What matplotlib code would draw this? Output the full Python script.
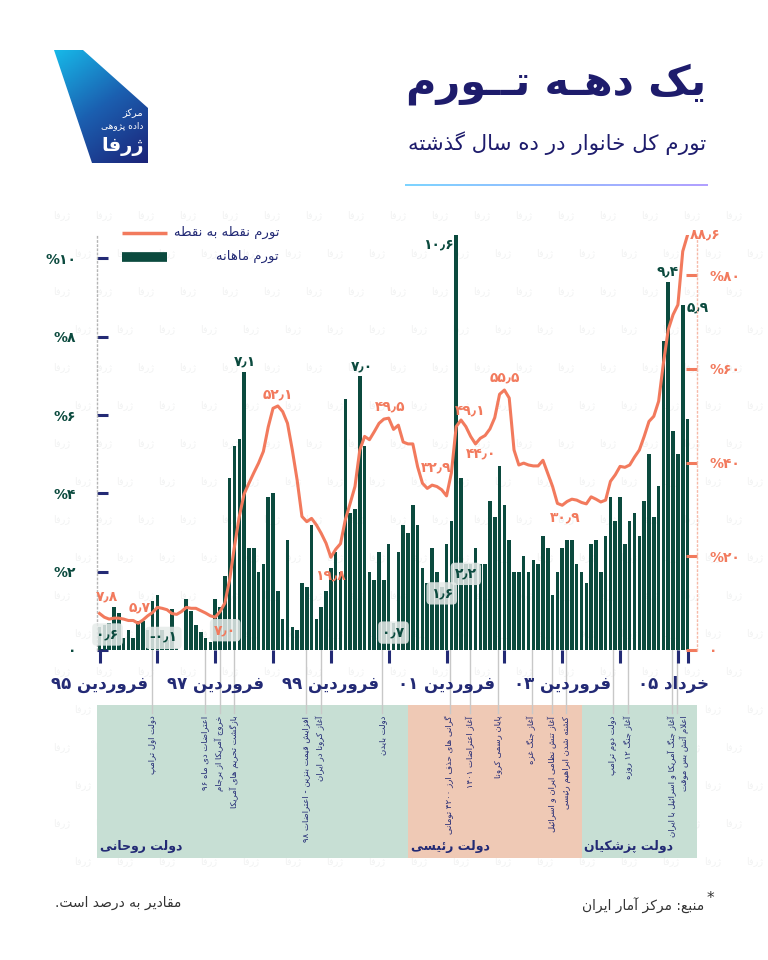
import re
import matplotlib
matplotlib.use('Agg')
import matplotlib.pyplot as plt
from matplotlib.patches import Polygon
from matplotlib.collections import LineCollection
from matplotlib.colors import LinearSegmentedColormap
from matplotlib.transforms import ScaledTranslation
import numpy as np

plt.rcParams['font.family'] = ['DejaVu Sans']

# ---------------- data ----------------
# monthly inflation (%), Farvardin 95 .. Khordad 05
monthly = [0.6, 0.65, 0.7, 1.1, 0.95, 0.3, 0.5, 0.3, 0.75, 0.75,
           0.5, 1.25, 1.4, 0.5, 0.25, 1.05, 0.05, -0.1, 1.3, 1.0,
           0.65, 0.45, 0.3, 0.2, 1.3, 1.1, 1.9, 4.4, 5.2, 5.4,
           7.1, 2.6, 2.6, 2.0, 2.2, 3.9, 4.0, 1.5, 0.8, 2.8,
           0.6, 0.5, 1.7, 1.6, 3.2, 0.8, 1.1, 1.5, 2.1, 2.5,
           2.0, 6.4, 3.5, 3.6, 7.0, 5.2, 2.0, 1.8, 2.5, 1.8,
           2.7, 0.7, 2.5, 3.2, 3.0, 3.7, 3.2, 2.1, 1.7, 2.6,
           2.0, 1.6, 2.7, 3.3, 10.6, 4.4, 2.2, 2.2, 2.6, 2.2,
           2.2, 3.8, 3.4, 4.7, 3.7, 2.8, 2.0, 2.0, 2.4, 2.0,
           2.3, 2.2, 2.9, 2.6, 1.4, 2.0, 2.6, 2.8, 2.8, 2.2,
           2.0, 1.7, 2.7, 2.8, 2.0, 2.9, 3.9, 3.3, 3.9, 2.7,
           3.3, 3.5, 2.9, 3.8, 5.0, 3.4, 4.2, 7.9, 9.4, 5.6,
           5.0, 8.8, 5.9]

# point-to-point inflation (%)
point_to_point = [7.8, 7.0, 6.6, 6.8, 6.8, 6.6, 6.3, 6.3, 5.7, 6.4,
                  7.3, 8.0, 9.1, 8.9, 8.6, 7.8, 7.6, 8.2, 9.1, 8.9,
                  8.9, 8.4, 7.9, 7.3, 7.0, 8.2, 10.0, 15.0, 22.1, 28.5,
                  33.3, 35.6, 37.8, 39.9, 42.4, 47.6, 51.6, 52.1, 50.9, 48.4,
                  42.7, 36.3, 28.5, 27.4, 28.1, 26.7, 24.9, 22.8, 19.8, 21.5,
                  22.7, 27.8, 31.3, 34.9, 42.7, 45.6, 44.9, 46.6, 48.4, 49.3,
                  49.5, 47.1, 48.0, 44.4, 44.0, 44.0, 39.1, 35.6, 34.5, 35.2,
                  34.9, 34.2, 32.9, 37.8, 47.7, 49.1, 47.7, 45.6, 44.0, 45.2,
                  45.8, 47.2, 49.6, 54.6, 55.5, 53.8, 42.7, 39.5, 39.9, 39.5,
                  39.3, 39.3, 40.5, 37.7, 34.9, 31.3, 30.9, 31.7, 32.2, 32.0,
                  31.5, 31.2, 32.7, 32.2, 31.6, 32.0, 36.0, 37.4, 39.2, 39.0,
                  39.5, 41.2, 42.7, 45.6, 48.8, 49.9, 53.1, 61.3, 68.4, 71.6,
                  73.7, 85.1, 88.6]

months = list(range(len(monthly)))

tick_months = [0, 12, 24, 36, 48, 60, 72, 84, 96, 108, 120, 122]
label_months = [0, 24, 48, 72, 96, 122]
label_texts = ['فروردین ۹۵', 'فروردین ۹۷', 'فروردین ۹۹', 'فروردین ۰۱', 'فروردین ۰۳', 'خرداد ۰۵']

gov_names = ['دولت روحانی', 'دولت رئیسی', 'دولت پزشکیان']
gov_changes = [64, 100]

event_months = [10.8, 21.9, 24.9, 27.9, 42.8, 45.9, 58.7, 72.7, 76.9, 82.7,
                89.7, 93.9, 96.8, 106.5, 109.7, 118.8, 119.8]
event_texts = ['دولت اول ترامپ', 'اعتراضات دی ماه ۹۶', 'خروج آمریکا از برجام',
               'بازگشت تحریم های آمریکا', 'افزایش قیمت بنزین - اعتراضات ۹۸',
               'آغاز کرونا در ایران', 'دولت بایدن', 'گرانی های حذف ارز ۴۲۰۰ تومانی',
               'آغاز اعتراضات ۱۴۰۱', 'پایان رسمی کرونا', 'آغاز جنگ غزه',
               'آغاز تنش نظامی ایران و اسرائیل', 'کشته شدن ابراهیم رئیسی',
               'دولت دوم ترامپ', 'آغاز جنگ ۱۲ روزه',
               'آغاز جنگ آمریکا و اسرائیل با ایران', 'اعلام آتش بس موقت']

# which points get a value label: (month, offset px, boxed)
bar_notes = [(0, (8, -8), True), (17, (-18, 16), True), (30, (1, 10), False),
             (54, (2, 9), False), (61, (0, -10), True), (71, (0, -6), True),
             (74, (-18, -10), False), (76, (0, -10), True), (118, (-1, 10), False),
             (122, (10, 111), False)]
line_notes = [(0, (7, 17), False), (8, (2, 16), False), (24, (10, -13), True),
              (37, (0, 11), False), (48, (0, -18), False), (60, (1, 12), False),
              (72, (-10, 28), False), (75, (9, 9), False), (78, (6, -10), False),
              (84, (0, 12), False), (96, (3, -12), False), (122, (18, 0), False)]

# ---------------- persian text helpers ----------------
FORMS = {
    '\u0621': ('\ufe80', None, None, None),
    '\u0622': ('\ufe81', '\ufe82', None, None),
    '\u0623': ('\ufe83', '\ufe84', None, None),
    '\u0624': ('\ufe85', '\ufe86', None, None),
    '\u0625': ('\ufe87', '\ufe88', None, None),
    '\u0626': ('\ufe89', '\ufe8a', '\ufe8b', '\ufe8c'),
    '\u0627': ('\ufe8d', '\ufe8e', None, None),
    '\u0628': ('\ufe8f', '\ufe90', '\ufe91', '\ufe92'),
    '\u0629': ('\ufe93', '\ufe94', None, None),
    '\u062a': ('\ufe95', '\ufe96', '\ufe97', '\ufe98'),
    '\u062b': ('\ufe99', '\ufe9a', '\ufe9b', '\ufe9c'),
    '\u062c': ('\ufe9d', '\ufe9e', '\ufe9f', '\ufea0'),
    '\u062d': ('\ufea1', '\ufea2', '\ufea3', '\ufea4'),
    '\u062e': ('\ufea5', '\ufea6', '\ufea7', '\ufea8'),
    '\u062f': ('\ufea9', '\ufeaa', None, None),
    '\u0630': ('\ufeab', '\ufeac', None, None),
    '\u0631': ('\ufead', '\ufeae', None, None),
    '\u0632': ('\ufeaf', '\ufeb0', None, None),
    '\u0633': ('\ufeb1', '\ufeb2', '\ufeb3', '\ufeb4'),
    '\u0634': ('\ufeb5', '\ufeb6', '\ufeb7', '\ufeb8'),
    '\u0635': ('\ufeb9', '\ufeba', '\ufebb', '\ufebc'),
    '\u0636': ('\ufebd', '\ufebe', '\ufebf', '\ufec0'),
    '\u0637': ('\ufec1', '\ufec2', '\ufec3', '\ufec4'),
    '\u0638': ('\ufec5', '\ufec6', '\ufec7', '\ufec8'),
    '\u0639': ('\ufec9', '\ufeca', '\ufecb', '\ufecc'),
    '\u063a': ('\ufecd', '\ufece', '\ufecf', '\ufed0'),
    '\u0641': ('\ufed1', '\ufed2', '\ufed3', '\ufed4'),
    '\u0642': ('\ufed5', '\ufed6', '\ufed7', '\ufed8'),
    '\u0644': ('\ufedd', '\ufede', '\ufedf', '\ufee0'),
    '\u0645': ('\ufee1', '\ufee2', '\ufee3', '\ufee4'),
    '\u0646': ('\ufee5', '\ufee6', '\ufee7', '\ufee8'),
    '\u0647': ('\ufee9', '\ufeea', '\ufeeb', '\ufeec'),
    '\u0648': ('\ufeed', '\ufeee', None, None),
    '\u067e': ('\ufb56', '\ufb57', '\ufb58', '\ufb59'),
    '\u0686': ('\ufb7a', '\ufb7b', '\ufb7c', '\ufb7d'),
    '\u0698': ('\ufb8a', '\ufb8b', None, None),
    '\u06a9': ('\ufb8e', '\ufb8f', '\ufb90', '\ufb91'),
    '\u06af': ('\ufb92', '\ufb93', '\ufb94', '\ufb95'),
    '\u06cc': ('\ufbfc', '\ufbfd', '\ufbfe', '\ufbff'),
}
LAM_ALEF = {'\u0627': ('\ufefb', '\ufefc'), '\u0622': ('\ufef5', '\ufef6'),
            '\u0623': ('\ufef7', '\ufef8'), '\u0625': ('\ufef9', '\ufefa')}


def joins_next(c):
    return c == '\u0640' or (c in FORMS and FORMS[c][2] is not None)


def joins_prev(c):
    return c == '\u0640' or (c in FORMS and FORMS[c][1] is not None)


def shape(s):
    s = s.replace('\u064a', '\u06cc').replace('\u0643', '\u06a9')
    out = []
    i = 0
    while i < len(s):
        c = s[i]
        prev = s[i - 1] if i > 0 else ''
        nxt = s[i + 1] if i + 1 < len(s) else ''
        if c == '\u200c':
            i += 1
            continue
        if c not in FORMS:
            out.append(c)
            i += 1
            continue
        if c == '\u0644' and nxt in LAM_ALEF:
            out.append(LAM_ALEF[nxt][1] if joins_next(prev) else LAM_ALEF[nxt][0])
            i += 2
            continue
        iso, fin, ini, med = FORMS[c]
        cp = joins_next(prev) and fin is not None
        cn = ini is not None and joins_prev(nxt)
        if cp and cn:
            out.append(med)
        elif cp:
            out.append(fin)
        elif cn:
            out.append(ini)
        else:
            out.append(iso)
        i += 1
    return ''.join(out)


def rtl(s):
    s = shape(s)
    parts = re.split(r'([0-9\u06f0-\u06f9](?:[0-9\u06f0-\u06f9\u066b.,]*[0-9\u06f0-\u06f9])?)', s)
    vis = [p if k % 2 else p[::-1] for k, p in enumerate(parts)]
    return ''.join(reversed(vis))


FA = str.maketrans('0123456789', '۰۱۲۳۴۵۶۷۸۹')


def fa_num(v):
    s = f'{abs(v):.1f}'.translate(FA).replace('.', '٫')
    return ('-' if v < 0 else '') + s


# ---------------- colours ----------------
green = '#0b4a3e'
orange = '#f27a5d'
navy = '#232a75'
title_col = '#1e1c6c'
band_green = '#c7dfd4'
band_salmon = '#efc9b5'

W, H = 768, 960
fig = plt.figure(figsize=(W / 100, H / 100), dpi=100)
fig.patch.set_facecolor('white')

bg = fig.add_axes([0, 0, 1, 1])
bg.set_xlim(0, W)
bg.set_ylim(H, 0)
bg.axis('off')
bg.set_zorder(0)

# faint logo watermark behind the chart
for r, wy in enumerate(range(215, 890, 38)):
    for wx in range(62, 760, 42):
        sx = wx + (21 if r % 2 else 0)
        bg.text(sx, wy, rtl('ژرفا'), ha='center', va='center', fontsize=7,
                color='#f2f3f3', zorder=0)

# logo
logo = Polygon([(54, 50), (83, 50), (148, 108), (148, 163), (92, 163)], closed=True,
               fc='none', ec='none')
bg.add_patch(logo)
gx, gy = np.meshgrid(np.linspace(0, 1, 60), np.linspace(0, 1, 60))
grad = 0.45 * gx + 0.75 * gy
cmap = LinearSegmentedColormap.from_list('logo', ['#17b8e8', '#1b5fb0', '#1c2479'])
im = bg.imshow(grad, cmap=cmap, extent=(54, 148, 163, 50), aspect='auto', zorder=1)
im.set_clip_path(logo)
bg.text(143, 113, rtl('مرکز'), ha='right', va='center', fontsize=7, color='white', zorder=2)
bg.text(143, 126, rtl('داده پژوهی'), ha='right', va='center', fontsize=6.5, color='white', zorder=2)
bg.text(144, 147, rtl('ژرفا'), ha='right', va='center', fontsize=14, fontweight='bold',
        color='white', zorder=2)

renderer = fig.canvas.get_renderer()


def fit(t, width):
    w = t.get_window_extent(renderer).width
    t.set_fontsize(t.get_fontsize() * width / w)


title = bg.text(706, 84, rtl('یک دهـه تــورم'), ha='right', va='center', fontsize=36,
                fontweight='bold', color=title_col)
fit(title, 300)
sub = bg.text(706, 143, rtl('تورم کل خانوار در ده سال گذشته'), ha='right', va='center',
              fontsize=16, color=title_col)
fit(sub, 300)

xs = np.linspace(405, 708, 60)
segs = [[(xs[k], 185), (xs[k + 1], 185)] for k in range(len(xs) - 1)]
lc = LineCollection(segs, colors=plt.get_cmap('cool')(np.linspace(0.25, 0.55, len(segs))),
                    linewidths=1.3, alpha=0.75)
bg.add_collection(lc)

# legend
bg.plot([122, 167], [233, 233], color=orange, lw=2.5, solid_capstyle='butt', zorder=3)
bg.plot([122, 167], [256.5, 256.5], color=green, lw=7, solid_capstyle='butt', zorder=3)
bg.text(279, 232, rtl('تورم نقطه به نقطه'), ha='right', va='center', fontsize=9.5, color=navy, zorder=3)
bg.text(279, 256, rtl('تورم ماهانه'), ha='right', va='center', fontsize=9.5, color=navy, zorder=3)

# footer
bg.text(704, 906, rtl('منبع: مرکز آمار ایران'), ha='right', va='center', fontsize=10, color='#333333')
bg.text(707, 899, '*', ha='left', va='center', fontsize=11, color='#333333')
bg.text(55, 903, rtl('مقادیر به درصد است.'), ha='left', va='center', fontsize=10, color='#333333')

# ---------------- main chart ----------------
ax = fig.add_axes([97 / W, 1 - 650 / H, 600 / W, 415 / H])
ax.set_zorder(2)
ax.patch.set_visible(False)
ax2 = ax.twinx()
ax2.set_zorder(3)
ax2.patch.set_visible(False)

xlim = (-0.52, 123.96)
ax.set_xlim(*xlim)
ax.set_ylim(0, max(monthly))
ax2.set_ylim(0, max(point_to_point))

ax.bar(months, monthly, width=0.74, color=green, zorder=2)
ax2.plot(months, point_to_point, color=orange, lw=2.2, solid_joinstyle='round', zorder=3)

for sp in ['top', 'bottom', 'right', 'left']:
    ax.spines[sp].set_visible(False)
    ax2.spines[sp].set_visible(False)
ax.spines['left'].set_visible(True)
ax.spines['left'].set_color('#b5b5b5')
ax.spines['left'].set_linestyle((0, (1, 2)))
ax.spines['left'].set_linewidth(1)
ax2.spines['right'].set_visible(True)
ax2.spines['right'].set_color('#f6b9a8')
ax2.spines['right'].set_linestyle((0, (1, 2)))
ax2.spines['right'].set_linewidth(1)

left_ticks = [0, 2, 4, 6, 8, 10]
ax.set_yticks(left_ticks, ['%' + str(v).translate(FA) if v else '۰' for v in left_ticks])
ax.tick_params(axis='y', direction='in', length=8, width=2.2, color=navy,
               labelcolor=green, labelsize=10, pad=15)
right_ticks = [0, 20, 40, 60, 80]
ax2.set_yticks(right_ticks, ['%' + str(v).translate(FA) if v else '۰' for v in right_ticks])
ax2.tick_params(axis='y', direction='in', length=8, width=2.2, color=orange,
                labelcolor=orange, labelsize=10, pad=9)
for lbl in ax.get_yticklabels() + ax2.get_yticklabels():
    lbl.set_fontweight('bold')

xlabels = [rtl(label_texts[label_months.index(m)]) if m in label_months else '' for m in tick_months]
ax.set_xticks(tick_months, xlabels)
ax.tick_params(axis='x', direction='out', length=9, width=2.2, color=navy,
               labelcolor=navy, labelsize=12, pad=9)
for lbl in ax.get_xticklabels():
    lbl.set_fontweight('bold')
last = ax.get_xticklabels()[-1]
last.set_transform(last.get_transform() + ScaledTranslation(-14 / 100, 0, fig.dpi_scale_trans))


def note(axis, x, y, text, off, color, boxed):
    box = dict(boxstyle='round,pad=0.3', fc='#e6ebe9', ec='none', alpha=0.85) if boxed else None
    axis.annotate(text, (x, y), xytext=off, textcoords='offset pixels', ha='center',
                  va='center', fontsize=10, fontweight='bold', color=color, bbox=box,
                  zorder=5, annotation_clip=False)


for m, off, boxed in bar_notes:
    note(ax, m, monthly[m], fa_num(monthly[m]), off, green, boxed)
for m, off, boxed in line_notes:
    note(ax2, m, point_to_point[m], fa_num(point_to_point[m]), off, orange, boxed)

# ---------------- events band ----------------
band = fig.add_axes([97 / W, 1 - 858 / H, 600 / W, 153 / H])
band.set_zorder(1)
band.set_xlim(*xlim)
band.set_ylim(0, 1)
band.axis('off')

edges = [xlim[0]] + gov_changes + [xlim[1]]
fills = [band_green, band_salmon, band_green]
for k in range(len(gov_names)):
    band.axvspan(edges[k], edges[k + 1], color=fills[k], lw=0, zorder=0)
    band.text(edges[k] + 0.6, 0.072, rtl(gov_names[k]), ha='left', va='center',
              fontsize=9, fontweight='bold', color=navy, zorder=3)

text_shift = [0] * (len(event_months) - 1) + [1.6]
for m, t, sh in zip(event_months, event_texts, text_shift):
    band.plot([m, m], [0.95, 1.36], color='#c8c8c8', lw=1, clip_on=False, zorder=1)
    band.text(m + sh, 0.93, rtl(t), rotation=90, ha='center', va='top', fontsize=6.1,
              color=navy, zorder=2)

fig.savefig('out.png', dpi=100)
